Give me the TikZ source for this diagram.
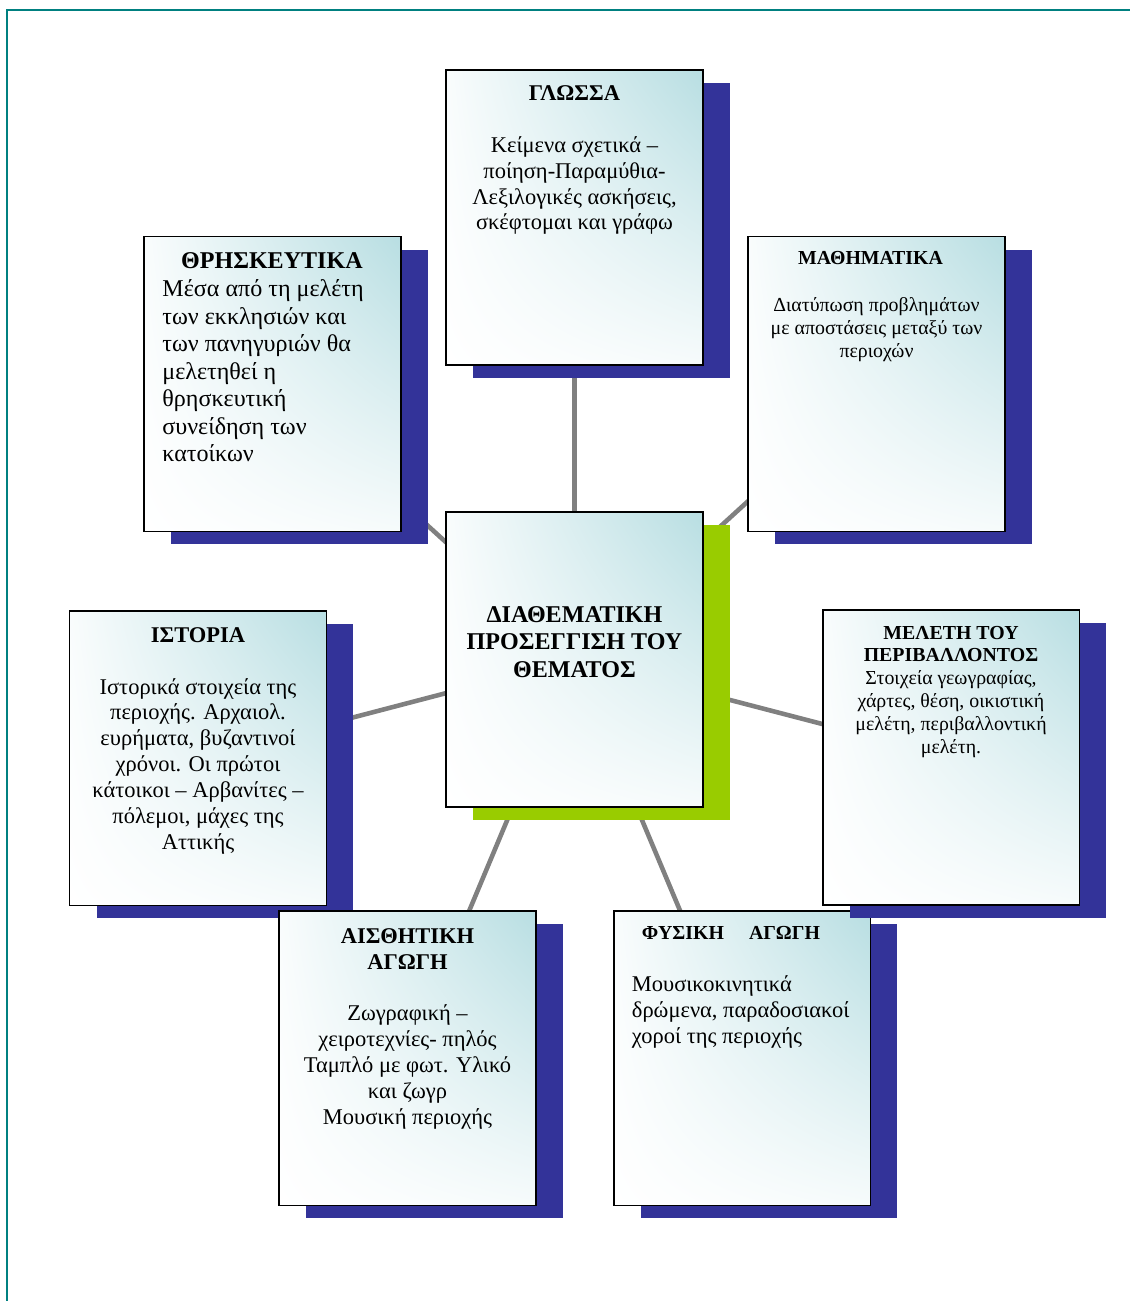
\documentclass[tikz,border=0pt]{standalone}
\usepackage{fontspec}
\setmainfont{Liberation Serif}
\usepackage{tikz}
\usetikzlibrary{
  positioning,
  shadows,
  shadings
}
\pgfdeclarelayer{background}
\pgfsetlayers{background,main}
\definecolor{shadowblue}{RGB}{51, 51, 153}
\definecolor{shadowgreen}{RGB}{153, 204, 0}
\definecolor{panelteal}{RGB}{184, 222, 226}
\definecolor{linkgray}{RGB}{128, 128, 128}
\definecolor{frameteal}{RGB}{0, 128, 128}
\tikzset{
  panel/.style = {
    rectangle, draw=black, line width=1.1pt,
    minimum width=5.14cm, minimum height=5.9cm, inner sep=0pt,
    upper left=panelteal!8!white, upper right=panelteal,
    lower left=white, lower right=panelteal!12!white,
    drop shadow={shadow xshift=0.54cm, shadow yshift=-0.26cm,
                 fill=#1, opacity=1}
  },
  panel/.default = shadowblue,
  bodytext/.style  = {inner sep=0pt, align=center,
                      font=\fontsize{12.8}{14.7}\selectfont},
  smalltext/.style = {bodytext, font=\fontsize{11.3}{13}\selectfont},
  largetext/.style = {bodytext, font=\fontsize{13.7}{15.7}\selectfont},
  link/.style  = {draw=linkgray, line width=2.6pt},
  frame/.style = {draw=frameteal, line width=1.3pt},
}

\begin{document}
\begin{tikzpicture}[x=0.02cm, y=-0.02cm]
  \useasboundingbox (0,0) rectangle (1130,1301);

  %% page frame
  \draw[frame] (7,1301) -- (7,10) -- (1130,10);

  %% top row
  \node[panel] (glossa) at (574.5,217.5) {};
  \node[bodytext, below=0.32cm of glossa.north] (glossatext)
    {\textbf{ΓΛΩΣΣΑ}\\[15pt]
     Κείμενα σχετικά –\\ποίηση-Παραμύθια-\\
     Λεξιλογικές ασκήσεις,\\σκέφτομαι και γράφω};

  \node[panel] (thriskeftika) at (272.5,384) {};
  \node[largetext, align=left,
        below right=0.34cm and 0.38cm of thriskeftika.north west] (thriskeftikatext)
    {\makebox[4.38cm]{\textbf{ΘΡΗΣΚΕΥΤΙΚΑ}}\\
     Μέσα από τη μελέτη\\των εκκλησιών και\\των πανηγυριών θα\\
     μελετηθεί η\\θρησκευτική\\συνείδηση των\\κατοίκων};

  \node[panel] (mathimatika) at (876.5,384) {};
  \node[smalltext, below=0.31cm of mathimatika.north] (mathimatikatext)
    {\makebox[0pt]{\hspace*{-0.24cm}\textbf{ΜΑΘΗΜΑΤΙΚΑ}}\\[14pt]
     Διατύπωση προβλημάτων\\με αποστάσεις μεταξύ των\\περιοχών};

  %% centre
  \node[panel=shadowgreen] (kentro) at (574.5,659.5) {};
  \node[largetext, font=\fontsize{13.7}{15.6}\selectfont\bfseries,
        below=1.9cm of kentro.north] (kentrotext)
    {ΔΙΑΘΕΜΑΤΙΚΗ\\ΠΡΟΣΕΓΓΙΣΗ ΤΟΥ\\ΘΕΜΑΤΟΣ};

  %% middle row
  \node[panel] (istoria) at (198,758) {};
  \node[bodytext, below=0.35cm of istoria.north] (istoriatext)
    {\textbf{ΙΣΤΟΡΙΑ}\\[14.8pt]
     Ιστορικά στοιχεία της\\περιοχής. Αρχαιολ.\\ευρήματα, βυζαντινοί\\
     χρόνοι. Οι πρώτοι\\κάτοικοι – Αρβανίτες –\\πόλεμοι, μάχες της\\Αττικής};

  %% bottom row
  \node[panel] (aisthitiki) at (407.5,1058) {};
  \node[bodytext, below=0.37cm of aisthitiki.north] (aisthitikitext)
    {\textbf{ΑΙΣΘΗΤΙΚΗ}\\\textbf{ΑΓΩΓΗ}\\[14.8pt]
     Ζωγραφική –\\χειροτεχνίες- πηλός\\Ταμπλό με φωτ. Υλικό\\
     και ζωγρ\\Μουσική περιοχής};

  \node[panel] (fysiki) at (742,1058) {};
  \node[bodytext, align=left,
        below right=0.33cm and 0.38cm of fysiki.north west] (fysikitext)
    {\hspace*{0.2cm}{\fontsize{11.3}{13}\selectfont
      \textbf{ΦΥΣΙΚΗ\hspace{0.5cm}ΑΓΩΓΗ}}\\[15pt]
     Μουσικοκινητικά\\δρώμενα, παραδοσιακοί\\χοροί της περιοχής};

  \node[panel] (meleti) at (951,757.5) {};
  \node[smalltext, below=0.33cm of meleti.north] (meletitext)
    {\textbf{ΜΕΛΕΤΗ ΤΟΥ}\\\textbf{ΠΕΡΙΒΑΛΛΟΝΤΟΣ}\\
     Στοιχεία γεωγραφίας,\\χάρτες, θέση, οικιστική\\
     μελέτη, περιβαλλοντική\\μελέτη.};

  %% spokes
  \begin{pgfonlayer}{background}
    \draw[link] (kentro.center) -- (glossa.center);
    \draw[link] (kentro.center) -- (thriskeftika.center);
    \draw[link] (kentro.center) -- (mathimatika.center);
    \draw[link] (kentro.center) -- (istoria.center);
    \draw[link] (kentro.center) -- (meleti.center);
    \draw[link] (kentro.center) -- (aisthitiki.center);
    \draw[link] (kentro.center) -- (fysiki.center);
  \end{pgfonlayer}

\end{tikzpicture}
\end{document}
